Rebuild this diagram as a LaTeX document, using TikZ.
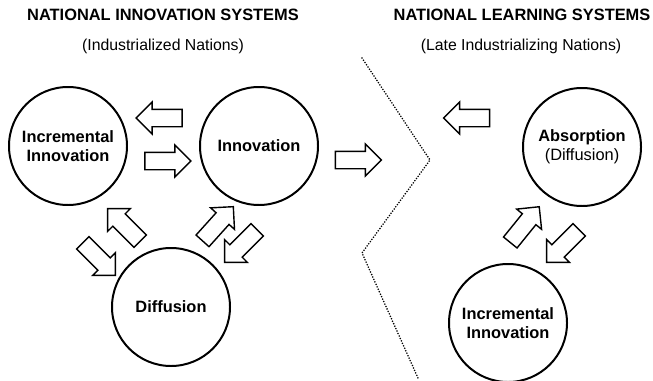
\documentclass[tikz,border=0pt]{standalone}
\usepackage{fontspec}
\setmainfont{Liberation Sans}
\usepackage{tikz}
\usetikzlibrary{arrows.meta, calc, positioning, shapes.arrows}

\tikzset{
    system/.style={circle, draw, line width=1.7pt, minimum size=35.4mm, inner sep=0pt,
        align=center, font=\fontsize{14}{16.5}\selectfont\bfseries},
    flow/.style={single arrow, draw, line width=1.2pt, inner xsep=0pt, inner ysep=2.4mm,
        single arrow head extend=2.2mm, minimum height=13.8mm, single arrow tip angle=90},
    heading/.style={font=\fontsize{14}{16}\selectfont\bfseries},
    subheading/.style={font=\fontsize{13.5}{16}\selectfont}
}

\begin{document}
\begin{tikzpicture}[x=0.3mm, y=0.3mm]
    \useasboundingbox (0,0) rectangle (653,380);

    % 左侧：国家创新体系
    \node[heading] (titleL) at (163,365) {NATIONAL INNOVATION SYSTEMS};
    \node[subheading] (subL) at (163,334) {(Industrialized Nations)};

    \node[system] (incL) at (68,234) {Incremental\\Innovation};
    \node[system] (innov) at (259,234) {Innovation};
    \node[system] (diff) at (171,73) {Diffusion};

    \node[flow, rotate=180] (aIncInnL) at ($(incL)!0.5!(innov)+(0,28)$) {};
    \node[flow] (aIncInnR) at ($(incL)!0.5!(innov)+(0,-15)$) {};
    \node[flow, rotate=-45] (aIncDiff) at (96,124) {};
    \node[flow, rotate=135] (aDiffInc) at (127,152) {};
    \node[flow, rotate=48] (aDiffInn) at (215,153) {};
    \node[flow, rotate=225] (aInnDiff) at (244,137) {};

    % 中间：分界线与过渡箭头
    \draw[line width=1.5pt, line cap=round, dash pattern=on 0pt off 2.3pt]
        (362,322) -- (430,220) -- (362,127) -- (418,2);
    \node[flow] (aMid) at (354,220) {};

    % 右侧：国家学习体系
    \node[heading] (titleR) at (522,365) {NATIONAL LEARNING SYSTEMS};
    \node[subheading] (subR) at (521,334) {(Late Industrializing Nations)};

    \node[system] (absorb) at (582,233) {Absorption\\\mdseries(Diffusion)};
    \node[system] (incR) at (508,57) {Incremental\\Innovation};

    \node[flow, rotate=180] (aAbsOut) at (471,262) {};
    \node[flow, rotate=51] (aIncAbs) at (522,152) {};
    \node[flow, rotate=225] (aAbsInc) at (566,137) {};
\end{tikzpicture}
\end{document}
